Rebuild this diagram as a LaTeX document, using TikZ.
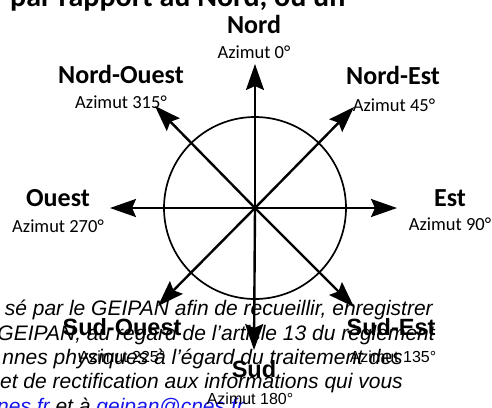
\documentclass[tikz,border=0pt]{standalone}
\usepackage{fontspec}
\newfontfamily\calibri{Carlito}
\newfontfamily\arial{Liberation Sans}
\usetikzlibrary{arrows.meta}
\definecolor{lien}{RGB}{20,20,235}

\begin{document}
\begin{tikzpicture}[x=1pt, y=-1pt, line join=round,
    fleche/.style={line width=2.4pt, -{Stealth[length=26pt, width=18pt, inset=4pt]}},
    pointcard/.style={anchor=base, inner sep=0pt, font=\calibri\bfseries\fontsize{26}{30}\selectfont},
    azimut/.style={anchor=base, inner sep=0pt, font=\calibri\fontsize{18.5}{22}\selectfont},
    pointsud/.style={anchor=base, inner sep=0pt, font=\arial\bfseries\fontsize{23.5}{28}\selectfont},
    azimutsud/.style={anchor=base, inner sep=0pt, font=\arial\fontsize{16}{19}\selectfont},
    texte/.style={anchor=base east, inner sep=0pt, font=\arial\itshape\fontsize{21}{25}\selectfont}]
  \fill[white] (0,0) rectangle (492,407);
  \useasboundingbox (0,0) rectangle (492,407);
  % texte du document autour
  \node[anchor=base west, inner sep=0pt, font=\calibri\bfseries\fontsize{30}{36}\selectfont] (haut) at (10,6) {par rapport au Nord, ou un};
  \node[texte] (l1) at (433,315) {sé par le GEIPAN afin de recueillir, enregistrer};
  \node[texte] (l2) at (435,340) {GEIPAN, au regard de l’article 13 du règlement};
  \node[texte] (l3) at (403,364) {nnes physiques à l’égard du traitement des};
  \node[texte] (l4) at (403,388) {et de rectification aux informations qui vous};
  \node[texte, anchor=base west] (l5) at (-3,413) {{\color{lien}nes.fr} et à {\color{lien}geipan@cnes.fr}};
  % rose des vents
  \coordinate (c) at (255,208);
  \coordinate (tn) at (255,64);
  \coordinate (ts) at (254,350);
  \coordinate (te) at (397,208);
  \coordinate (tw) at (110,208);
  \coordinate (tne) at (354,107);
  \coordinate (tnw) at (155,106);
  \coordinate (tsw) at (158,306);
  \coordinate (tse) at (354,307);
  \draw[line width=1.7pt] (c) circle[radius=91pt];
  \foreach \t in {tn,ts,te,tw,tne,tnw,tsw,tse}
    \draw[fleche] (c) -- (\t);
  \node[pointcard] (nord) at (254,33) {Nord};
  \node[azimut] (az0) at (254,58) {Azimut 0°};
  \node[pointcard] (nordouest) at (121,83) {Nord-Ouest};
  \node[azimut] (az315) at (121,108) {Azimut 315°};
  \node[pointcard] (nordest) at (393,84) {Nord-Est};
  \node[azimut] (az45) at (394,111) {Azimut 45°};
  \node[pointcard] (ouest) at (58,206) {Ouest};
  \node[azimut] (az270) at (58,232) {Azimut 270°};
  \node[pointcard] (est) at (450,206) {Est};
  \node[azimut] (az90) at (450,230) {Azimut 90°};
  \node[pointsud] (sudouest) at (122,335) {Sud-Ouest};
  \node[azimutsud] (az225) at (122,362) {Azimut 225°};
  \node[pointsud] (sudest) at (391,335) {Sud-Est};
  \node[azimutsud] (az135) at (393,362) {Azimut 135°};
  \node[pointsud] (sud) at (254,377) {Sud};
  \node[azimutsud] (az180) at (250,404) {Azimut 180°};
\end{tikzpicture}
\end{document}
